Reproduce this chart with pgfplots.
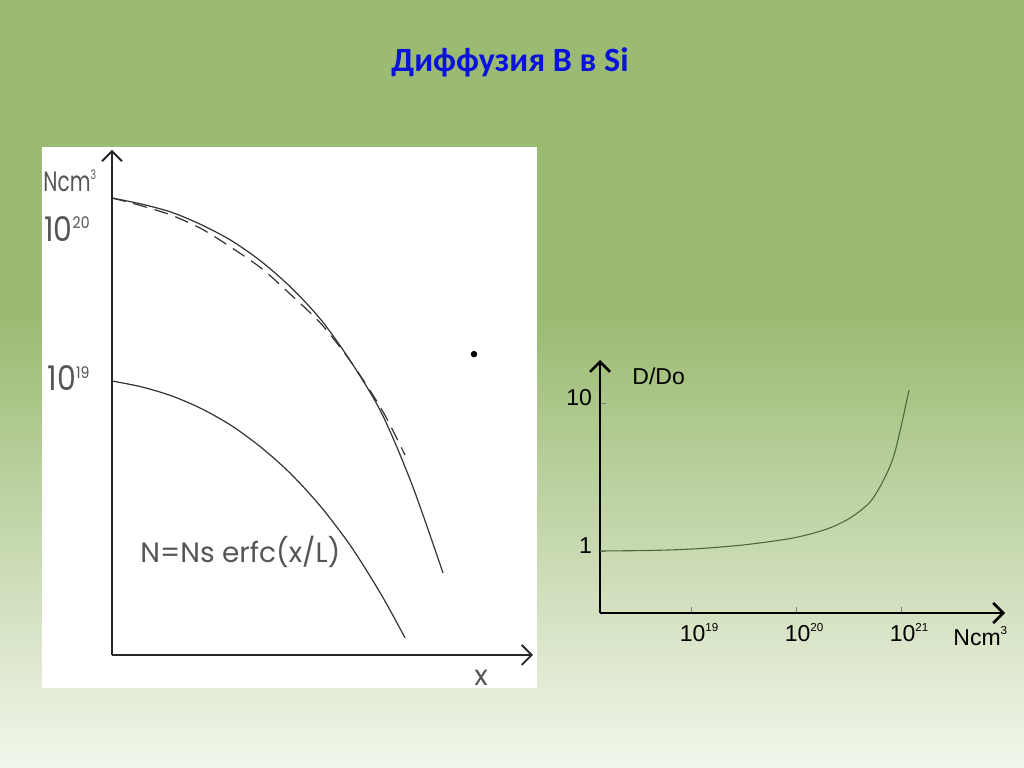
\documentclass[border=0pt]{standalone}
\usepackage{fontspec}
\setmainfont{Liberation Sans}
\newfontfamily\carlito{Carlito}
\newfontfamily\gothic{Poppins}
\newfontfamily\gothicnum[FakeStretch=0.88]{Poppins}
\newfontfamily\gothicnarrow[FakeStretch=0.72]{Poppins}
\usepackage{pgfplots}
\pgfplotsset{compat=1.18}
\usetikzlibrary{arrows.meta}
\definecolor{bgtop}{HTML}{9BBB72}
\definecolor{bgbot}{HTML}{F2F6EC}
\definecolor{titleblue}{HTML}{0A12DC}
\definecolor{inkgray}{HTML}{555555}
\definecolor{curvegreen}{HTML}{4E6A3C}

% small raised exponents, as in the slide
\newcommand{\supL}[1]{\raisebox{6.2pt}{\fontsize{8}{8}\selectfont #1}}
\newcommand{\supN}[1]{\raisebox{6pt}{\fontsize{6.5}{6.5}\selectfont #1}}
\newcommand{\supR}[1]{\raisebox{5.2pt}{\fontsize{5.8}{5.8}\selectfont #1}}

\begin{document}
\begin{tikzpicture}
% slide: 1024x767 px, 0.5pt per px
\fill[bgtop] (0pt,0pt) rectangle (512pt,383.5pt);
\shade[top color=bgtop, bottom color=bgbot] (0pt,0pt) rectangle (512pt,225pt);
\fill[white] (21pt,39.5pt) rectangle (268.5pt,310pt);

\node[font=\carlito\bfseries\fontsize{17}{19}\selectfont, text=titleblue] at (255pt,352.5pt) {Диффузия В в Si};

% left panel: N(x) profiles
\begin{axis}[
  at={(56pt,56pt)}, anchor=south west,
  scale only axis, width=210.5pt, height=252.5pt,
  xmin=0, xmax=4.21,
  ymode=log, ymin=1.49e17, ymax=3.47e20,
  axis lines=left,
  axis line style={line width=0.9pt, black!85, -{Straight Barb[length=5pt,width=10pt,line width=0.9pt]}},
  xtick=\empty,
  ytick={1e19,1e20}, yticklabels={10\supL{19},10\supL{20}},
  minor tick style={draw=none},
  major tick length=0pt,
  yticklabel style={font=\gothicnum\fontsize{17}{17}\selectfont, text=inkgray,
    anchor=base east, inner sep=0pt, xshift=-11pt, yshift=-5pt},
  clip=false,
]
\addplot[line width=0.6pt, black!80, smooth] coordinates {
  (0,1.66e20) (0.3,1.51e20) (0.6,1.33e20) (0.9,1.096e20) (1.2,8.58e19)
  (1.5,6.21e19) (1.8,4.14e19) (2.1,2.51e19) (2.4,1.31e19) (2.7,6.03e18)
  (3.0,2.04e18) (3.31,5.25e17)
};
\addplot[line width=0.6pt, black!80, smooth, dash pattern=on 7pt off 4pt] coordinates {
  (0,1.66e20) (0.3,1.47e20) (0.6,1.27e20) (0.9,1.03e20) (1.2,7.71e19)
  (1.5,5.60e19) (1.8,3.70e19) (2.1,2.37e19) (2.4,1.31e19) (2.7,6.41e18)
  (2.93,3.21e18)
};
\addplot[line width=0.6pt, black!80, smooth] coordinates {
  (0,1e19) (0.3,9.12e18) (0.6,7.94e18) (0.9,6.51e18) (1.2,5.01e18)
  (1.5,3.57e18) (1.8,2.36e18) (2.1,1.42e18) (2.4,7.71e17) (2.7,3.69e17)
  (2.93,1.94e17)
};
\addplot[only marks, mark=*, mark size=1.4pt, black] coordinates {(3.62,1.51e19)};
\end{axis}
\node[font=\gothicnarrow\fontsize{14}{14}\selectfont, text=inkgray, anchor=base west, inner sep=0pt] at (21.5pt,287.5pt) {Ncm\supN{3}};
\node[font=\gothic\fontsize{14}{14}\selectfont, text=inkgray, anchor=base, inner sep=0pt] at (240.5pt,41pt) {x};
\node[font=\gothic\fontsize{14}{14}\selectfont, text=inkgray, anchor=base west, inner sep=0pt] at (70pt,102.5pt) {N=Ns erfc(x/L)};

% right panel: D/Do versus N
\begin{axis}[
  at={(300pt,77pt)}, anchor=south west,
  scale only axis, width=202.5pt, height=126.5pt,
  xmode=log, ymode=log,
  xmin=1.36e18, xmax=9.77e21, ymin=0.381, ymax=19.52,
  axis lines=left,
  axis line style={line width=1.3pt, black, -{Straight Barb[length=5pt,width=10pt,line width=1.3pt]}},
  xtick={1e19,1e20,1e21}, xticklabels={10\supR{19},10\supR{20},10\supR{21}},
  ytick={1,10}, yticklabels={1,10},
  minor tick style={draw=none},
  tick align=inside, major tick length=3pt,
  major tick style={black!50, line width=0.4pt},
  ticklabel style={font=\fontsize{11.5}{11.5}\selectfont},
  xticklabel style={xshift=4pt, yshift=-1.5pt},
  yticklabel style={yshift=2.5pt, xshift=-0.5pt},
  clip=false,
]
\addplot[curvegreen, line width=0.55pt, smooth] coordinates {
  (1.36e18,1.0) (4.07e18,1.008) (1.045e19,1.032) (3.13e19,1.098) (9.36e19,1.224)
  (1.97e20,1.408) (3.27e20,1.671) (5.07e20,2.143) (6.74e20,2.97) (8.4e20,4.25)
  (9.78e20,6.47) (1.19e21,12.2)
};
\end{axis}
\node[font=\fontsize{11.5}{11.5}\selectfont, anchor=base west, inner sep=0pt] at (316pt,191pt) {D/Do};
\node[font=\fontsize{11.5}{11.5}\selectfont, anchor=base west, inner sep=0pt] at (476.5pt,61pt) {Ncm\supR{3}};
\end{tikzpicture}
\end{document}
